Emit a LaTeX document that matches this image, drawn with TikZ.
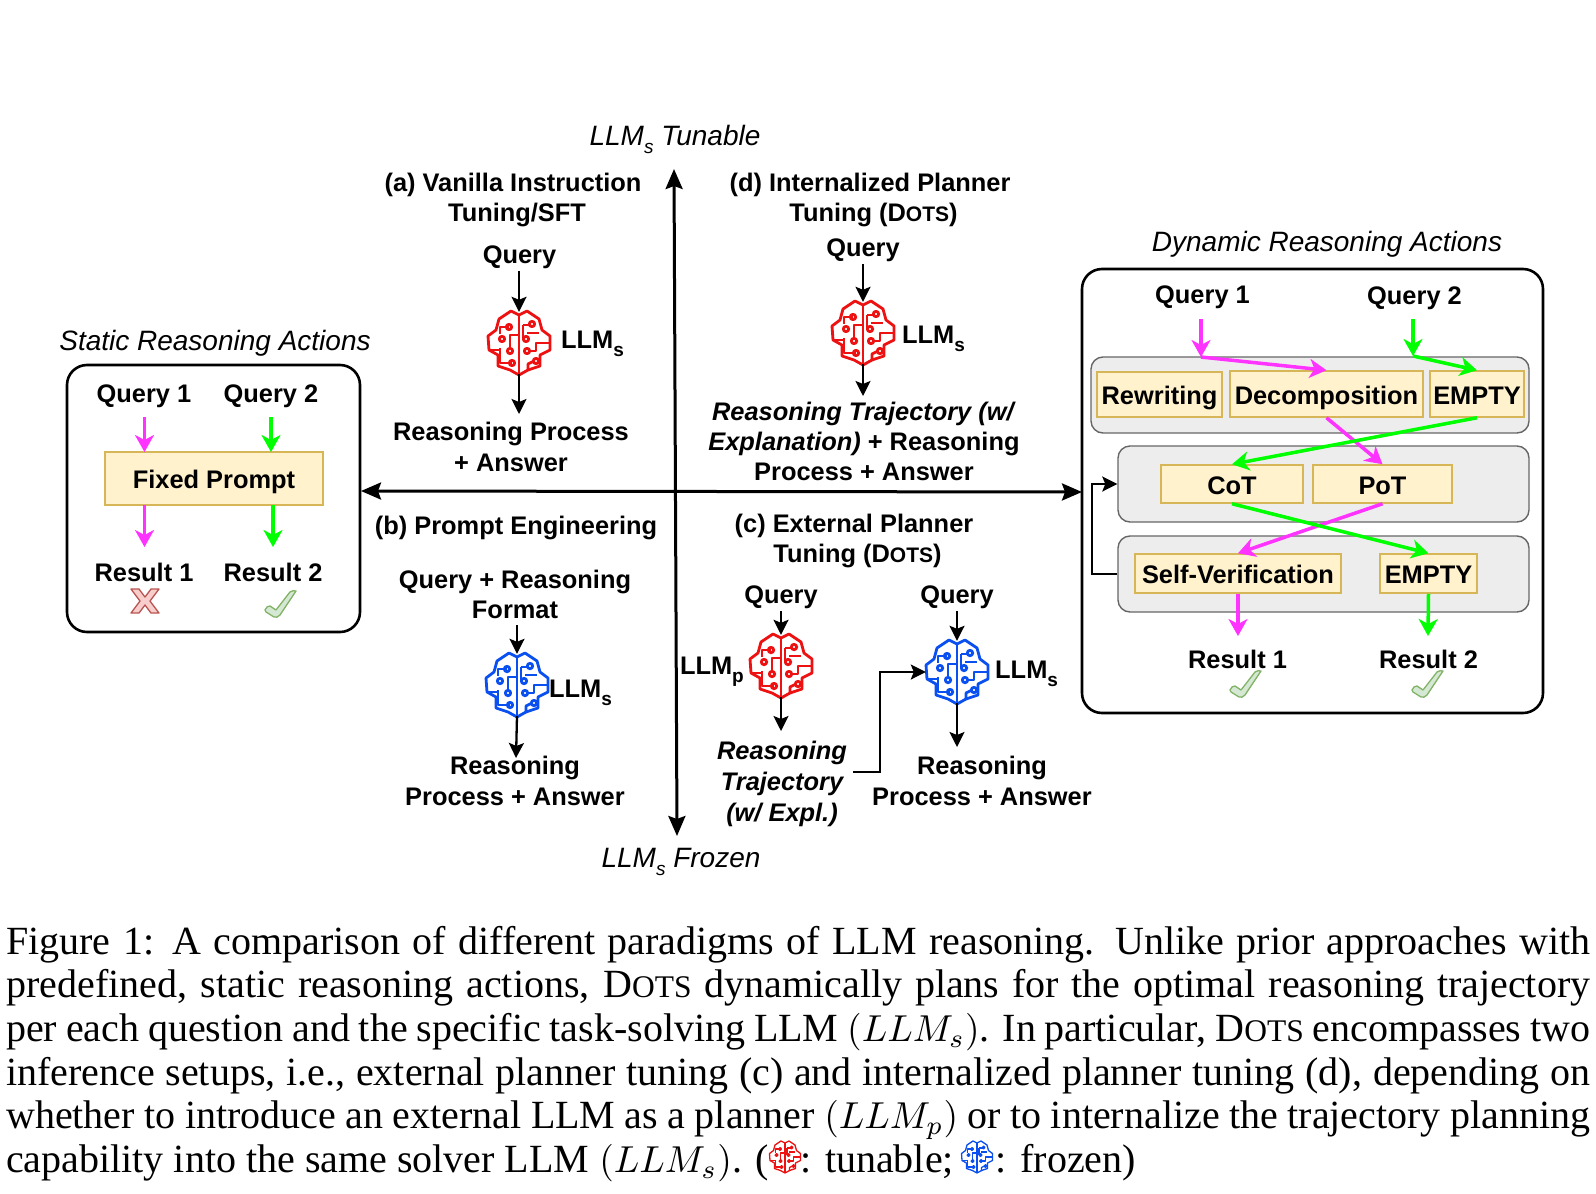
\documentclass[tikz,border=0pt]{standalone}
\usepackage{graphicx}
\usepackage{fontspec}
\setmainfont{Liberation Serif}
\newfontfamily\labfont{Liberation Sans}
\usetikzlibrary{arrows.meta}
\definecolor{brred}{HTML}{EE1111}
\definecolor{brblue}{HTML}{0A50F0}
\definecolor{mag}{HTML}{FF33FF}
\definecolor{grn}{HTML}{00FF00}
\definecolor{yfill}{HTML}{FFF2CC}
\definecolor{ydraw}{HTML}{D6B656}
\definecolor{xfill}{HTML}{F8CECC}
\definecolor{xdraw}{HTML}{B85450}
\definecolor{tfill}{HTML}{D5E8D4}
\definecolor{tdraw}{HTML}{82B366}
\newcommand{\lsub}[1]{\raisebox{-0.3em}{\fontsize{19}{19}\selectfont #1}}
\newcommand{\fakesc}{D{\fontsize{21}{21}\selectfont OTS}}
\newcommand{\capdots}{D{\fontsize{31.5}{31.5}\selectfont OTS}}
\newcommand{\capm}[1]{\scalebox{3.75}{\normalsize$#1$}}
\tikzset{
  x=1pt,y=-1pt,
  brainline/.style={line width=2.8pt},
  brain/.pic={
    \begin{scope}[#1,brainline,line join=round]
      \draw (0,-28) -- (-8,-32) -- (-20,-24) -- (-23,-13) -- (-31,-7) -- (-30,7) -- (-21,12) -- (-21,23) -- (-9,27) -- (0,32) -- (9,27) -- (21,23) -- (21,12) -- (31,7) -- (31,-7) -- (23,-13) -- (20,-24) -- (8,-32) -- cycle;
      \draw (0,-28) -- (0,32);
      \draw (-19,5) -- (-19,20) -- (-7,20);
      \draw (-30,7) -- (-19,7);
      \draw (-10,-16) -- (-19,-16) -- (-19,-9);
      \draw (0,-8) -- (-9,-8) -- (-9,5);
      \draw (4,-18) -- (4,-5);
      \draw (4,-18) -- (11,-18);
      \draw (8,-10) -- (20,-10);
      \draw (10,8) -- (17,8) -- (17,0) -- (31,0);
      \draw (9,28) -- (9,21) -- (15,18);
      \draw (-10,-16) circle (2.7);
      \draw (-17,-4) circle (2.7);
      \draw (-9,8) circle (2.7);
      \draw (-7,20) circle (2.7);
      \draw (13,-19) circle (2.7);
      \draw (7,-4) circle (2.7);
      \draw (8,8) circle (2.7);
      \draw (17,18) circle (2.7);
    \end{scope}
  },
  crossmark/.pic={
    \draw[draw=xdraw,fill=xfill,line width=1.3pt,line join=round]
      (-14,-12) -- (-6,-12) -- (0,-4) -- (6,-12) -- (14,-12) -- (5,0) -- (14,12) -- (6,12) -- (0,4) -- (-6,12) -- (-14,12) -- (-5,0) -- cycle;
  },
  tickmark/.pic={
    \draw[draw=tdraw,fill=tfill,line width=1.3pt,line join=round]
      (-16,6) .. controls (-15,3) and (-13,2) .. (-11,2) -- (-5,6) -- (9,-12) .. controls (11,-13) and (13,-14) .. (15,-13) -- (-1,11) .. controls (-3,13) and (-5,14) .. (-7,13) -- (-15,8) -- cycle;
  },
  lab/.style={font=\labfont\fontsize{25.4}{31}\selectfont\bfseries,align=center,inner sep=0pt,text depth=0pt},
  ital/.style={font=\labfont\fontsize{28}{32}\selectfont\itshape,inner sep=0pt},
  brbox/.style={minimum size=62pt,inner sep=0pt},
  panel/.style={draw=black,line width=2.6pt,rounded corners=20pt,fill=white},
  graybox/.style={draw=black!60,fill=black!7,line width=1.4pt,rounded corners=12pt},
  ybox/.style={draw=ydraw,fill=yfill,line width=1.5pt,inner sep=0pt,text height=20pt,text depth=0pt,font=\labfont\fontsize{25.4}{31}\selectfont\bfseries},
  blk/.style={draw=black,line width=2.3pt,-{Stealth[length=15pt,width=15pt,inset=3pt]}},
  magar/.style={draw=mag,line width=3.5pt,-{Stealth[length=17pt,width=19pt,inset=5pt]}},
  grnar/.style={draw=grn,line width=3.5pt,-{Stealth[length=17pt,width=19pt,inset=5pt]}},
  axis/.style={draw=black,line width=3pt,{Stealth[length=20pt,width=17pt,inset=3pt]}-{Stealth[length=20pt,width=17pt,inset=3pt]}},
}
\begin{document}
\begin{tikzpicture}
\useasboundingbox (0,0) rectangle (1596,1194);
\fill[white] (0,0) rectangle (1596,1194);

% axes
\coordinate (axT) at (674,169);
\coordinate (axB) at (677,836);
\coordinate (axL) at (361,491);
\coordinate (axR) at (1082,492);
\draw[axis] (axT) -- (axB);
\draw[axis] (axL) -- (axR);
\node[ital] (tTun) at (675,139.5) {LLM\lsub{s} Tunable};
\node[ital] (tFro) at (681,862) {LLM\lsub{s} Frozen};

% left panel
\node[ital] (tStat) at (215,343) {Static Reasoning Actions};
\draw[panel] (67,365) rectangle (360,632);
\node[lab] (lq1) at (144,394) {Query 1};
\node[lab] (lq2) at (271,394) {Query 2};
\node[ybox,line width=2.2pt,minimum width=218pt,minimum height=53pt] (fixed) at (214,478.5) {Fixed Prompt};
\node[lab] (lr1) at (144,572) {Result 1};
\node[lab] (lr2) at (273,572) {Result 2};
\coordinate (lq1a) at (144.5,417);
\coordinate (lq2a) at (271,417);
\coordinate (f1a) at (144.5,452);
\coordinate (f2a) at (271,452);
\coordinate (f1b) at (144.5,505);
\coordinate (f2b) at (273,505);
\coordinate (lr1a) at (144.5,547);
\coordinate (lr2a) at (273,547);
\draw[magar] (lq1a) -- (f1a);
\draw[grnar] (lq2a) -- (f2a);
\draw[magar] (f1b) -- (lr1a);
\draw[grnar] (f2b) -- (lr2a);
\pic at (145,601) {crossmark};
\pic at (281,604) {tickmark};

% (a)
\node[lab] (ta) at (513,197) {(a) Vanilla Instruction\\[-1pt]\hspace*{8pt}Tuning/SFT};
\node[lab] (qa) at (519.5,255) {Query};
\node[brbox] (ba) at (519,343) {};
\pic at (ba) {brain=brred};
\node[lab,anchor=west] (la) at (561,340) {LLM\lsub{s}};
\node[lab] (ra) at (511,447) {Reasoning Process\\+ Answer};
\coordinate (ra1) at (519,414);
\draw[blk] ([yshift=-7pt]ba.north |- qa.south) -- (ba.north);
\draw[blk] (ba.south) -- (ra1);

% (d)
\node[lab] (td) at (870,197) {(d) Internalized Planner\\[-1pt]\hspace*{7pt}Tuning (\fakesc)};
\node[lab] (qd) at (863,248) {Query};
\node[brbox] (bd) at (863,333) {};
\pic at (bd) {brain=brred};
\node[lab,anchor=west] (ld) at (902,335) {LLM\lsub{s}};
\node[lab] (rd) at (864,441) {\textit{Reasoning Trajectory (w/}\\[-1pt]\textit{Explanation)} + Reasoning\\[-1pt]Process + Answer};
\coordinate (rd1) at (863,396);
\draw[blk] ([yshift=-7pt]bd.north |- qd.south) -- (bd.north);
\draw[blk] (bd.south) -- (rd1);

% (b)
\node[lab] (tb) at (516,525) {(b) Prompt Engineering};
\node[lab] (qb) at (515,594) {Query + Reasoning\\[-1pt]Format};
\node[brbox] (bb) at (517,685) {};
\pic at (bb) {brain=brblue};
\node[lab,anchor=west] (lb) at (549,689) {LLM\lsub{s}};
\node[lab] (rb) at (515,781) {Reasoning\\Process + Answer};
\coordinate (rb1) at (516,758);
\draw[blk] ([yshift=-7pt]bb.north |- qb.south) -- (bb.north);
\draw[blk] (bb.south) -- (rb1);

% (c)
\node[lab] (tc) at (854,538) {(c) External Planner\\[-1pt]\hspace*{7pt}Tuning (\fakesc)};
\node[lab] (qc1) at (781,595) {Query};
\node[brbox] (bc1) at (781,666) {};
\pic at (bc1) {brain=brred};
\node[lab,anchor=east] (lc1) at (744,666) {LLM\lsub{p}};
\node[lab,font=\labfont\fontsize{25.4}{31}\selectfont\bfseries\itshape] (rc1) at (782,781) {Reasoning\\Trajectory\\(w/ Expl.)};
\coordinate (rc1a) at (781,731);
\draw[blk] ([yshift=-7pt]bc1.north |- qc1.south) -- (bc1.north);
\draw[blk] (bc1.south) -- (rc1a);
\node[lab] (qc2) at (957,595) {Query};
\node[brbox] (bc2) at (957,672) {};
\pic at (bc2) {brain=brblue};
\node[lab,anchor=west] (lc2) at (995,670) {LLM\lsub{s}};
\node[lab] (rc2) at (982,781) {Reasoning\\Process + Answer};
\coordinate (rc2a) at (957,747);
\draw[blk] ([yshift=-7pt]bc2.north |- qc2.south) -- (bc2.north);
\draw[blk] (bc2.south) -- (rc2a);
\coordinate (c1) at (853,772);
\draw[blk] (c1) -- (880,772) |- (bc2.west);

% right panel
\node[ital] (tDyn) at (1327,244) {Dynamic Reasoning Actions};
\draw[panel] (1082,269) rectangle (1543,713);
\draw[graybox] (1091,357) rectangle (1529,433);
\node[inner sep=0pt,minimum width=411pt,minimum height=76pt,graybox] (g2) at (1323.5,484) {};
\node[inner sep=0pt,minimum width=411pt,minimum height=76pt,graybox] (g3) at (1323.5,574) {};
\node[lab] (rq1) at (1202.5,295) {Query 1};
\node[lab] (rq2) at (1414.5,296) {Query 2};
\node[ybox,minimum width=125pt,minimum height=45pt] (rew) at (1159.5,394.5) {Rewriting};
\node[ybox,minimum width=193pt,minimum height=46pt] (dec) at (1326.5,394) {Decomposition};
\node[ybox,minimum width=94pt,minimum height=46pt] (em1) at (1477,394) {EMPTY};
\node[ybox,minimum width=142pt,minimum height=38pt] (cot) at (1232,484) {CoT};
\node[ybox,minimum width=139pt,minimum height=38pt] (pot) at (1382.5,484) {PoT};
\node[ybox,minimum width=206pt,minimum height=39pt] (sv) at (1238,573.5) {Self-Verification};
\node[ybox,minimum width=97pt,minimum height=39pt] (em2) at (1428.5,573.5) {EMPTY};
\node[lab] (rr1) at (1237.5,659) {Result 1};
\node[lab] (rr2) at (1428.5,659) {Result 2};
\coordinate (m0) at (1201,319);
\coordinate (m1) at (1201,357);
\coordinate (g0) at (1413,319);
\coordinate (g1) at (1413,356);
\coordinate (rr1a) at (1238,636);
\coordinate (rr2a) at (1428,636);
\draw[magar] (m0) -- (m1);
\draw[grnar] (g0) -- (g1);
\draw[magar] (m1) -- (dec.north);
\draw[grnar] (g1) -- (em1.north);
\draw[magar] (dec.south) -- (pot.north);
\draw[grnar] (em1.south) -- (cot.north);
\draw[magar] (pot.south) -- (sv.north);
\draw[grnar] (cot.south) -- (em2.north);
\draw[magar] (sv.south) -- (rr1a);
\draw[grnar] (em2.south) -- (rr2a);
\coordinate (fbx) at (1092,484);
\draw[blk] (g3.west) -| (fbx) -- (g2.west);
\pic at (1246,684) {tickmark};
\pic at (1428,684) {tickmark};

% caption
\node[anchor=north west,inner sep=0pt,text width=1584pt,font=\fontsize{40}{43.6}\selectfont,align=justify] (cap) at (6,926) {%
Figure 1: A comparison of different paradigms of LLM reasoning. Unlike prior approaches with\linebreak
predefined, static reasoning actions, \capdots{} dynamically plans for the optimal reasoning trajectory\linebreak
per each question and the specific task-solving LLM \capm{(LLM_s)}. In particular, \capdots{} encompasses two\linebreak
inference setups, i.e., external planner tuning (c) and internalized planner tuning (d), depending on\linebreak
whether to introduce an external LLM as a planner \capm{(LLM_p)} or to internalize the trajectory planning\linebreak
capability into the same solver LLM \capm{(LLM_s)}. (\hspace{32pt}: tunable; \hspace{32pt}: frozen)};
\begin{scope}[brainline/.style={line width=1.3pt}]
\pic[scale=0.5] at (785,1157) {brain=brred};
\pic[scale=0.5] at (977,1157) {brain=brblue};
\end{scope}
\end{tikzpicture}
\end{document}
